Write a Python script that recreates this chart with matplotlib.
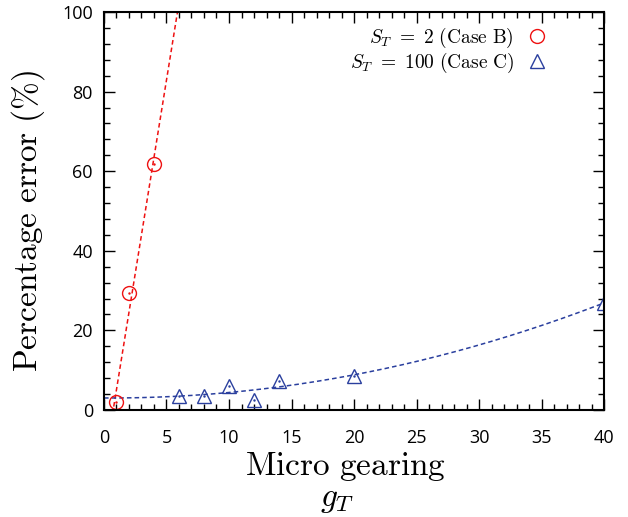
import numpy as np
import matplotlib
matplotlib.use("Agg")
import matplotlib.pyplot as plt
from matplotlib.ticker import MultipleLocator

plt.rcParams['mathtext.fontset'] = 'cm'

# Case B (S_T = 2)
gt_b = [1, 2, 4]
err_b = [2.0, 29.3, 61.9]

# Case C (S_T = 100)
gt_c = [6, 8, 10, 12, 14, 20, 40]
err_c = [3.4, 3.6, 6.0, 2.4, 7.4, 8.6, 26.9]


def main():
    fig = plt.figure(figsize=(6.28, 5.17), dpi=100)
    ax = fig.add_axes([0.1656, 0.207, 0.7962, 0.7698])

    # fitted trend lines
    fb = np.polyfit(gt_b, err_b, 1)
    xb = np.linspace(0, 8, 50)
    ax.plot(xb, np.polyval(fb, xb), '--', color='#ee1111', lw=1.1, dashes=(3, 2))
    fc = np.polyfit(gt_c, err_c, 2)
    xc = np.linspace(0, 40, 200)
    ax.plot(xc, np.polyval(fc, xc), '--', color='#2a3f9e', lw=1.1, dashes=(3, 2))

    ax.plot(gt_b, err_b, 'o', mfc='none', mec='#ee1111', ms=10, mew=1.0,
            label=r'$S_T\ =\ 2\ \mathrm{(Case\ B)}$')
    ax.plot(gt_b, err_b, '.', color='#ee1111', ms=1.5)
    ax.plot(gt_c, err_c, '^', mfc='none', mec='#2a3f9e', ms=10, mew=1.0,
            label=r'$S_T\ =\ 100\ \mathrm{(Case\ C)}$')
    ax.plot(gt_c, err_c, '.', color='#2a3f9e', ms=1.5)

    ax.set_xlim(0, 40)
    ax.set_ylim(0, 100)
    ax.xaxis.set_major_locator(MultipleLocator(5))
    ax.xaxis.set_minor_locator(MultipleLocator(1))
    ax.yaxis.set_major_locator(MultipleLocator(20))
    ax.yaxis.set_minor_locator(MultipleLocator(4))
    ax.tick_params(which='both', direction='in', top=True, right=True,
                   labelsize=13, width=1.0)
    ax.tick_params(which='major', length=8, pad=8)
    ax.tick_params(axis='x', which='major', pad=14)
    ax.tick_params(which='minor', length=4)
    for lab in ax.get_xticklabels() + ax.get_yticklabels():
        lab.set_fontfamily('Open Sans')
    for s in ax.spines.values():
        s.set_linewidth(1.5)

    ax.legend(loc='upper right', frameon=False, markerfirst=False,
              fontsize=14, handletextpad=0.4, borderaxespad=0.3,
              labelspacing=0.05, handlelength=1.6, bbox_to_anchor=(0.925, 1.0))

    fig.text(0.55, 0.098, r'$\mathrm{Micro\ gearing}$', fontsize=24,
             ha='center', va='center')
    fig.text(0.537, 0.035, r'$g_T$', fontsize=24, ha='center', va='center')
    fig.text(0.045, 0.572, r'$\mathrm{Percentage\ error\ (\%)}$', fontsize=24,
             ha='center', va='center', rotation=90)

    fig.savefig('out.png', dpi=100)


if __name__ == "__main__":
    main()
